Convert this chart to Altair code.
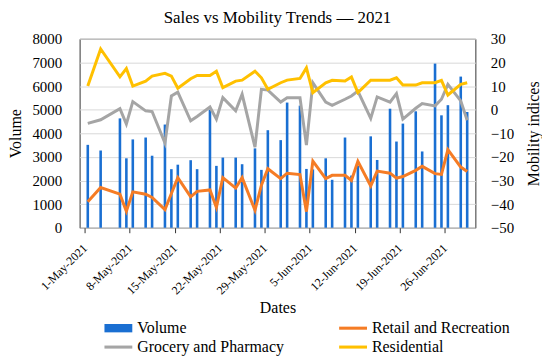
import altair as alt
import pandas as pd

FONT = "Liberation Serif"

dates = ["2021-05-01", "2021-05-03", "2021-05-06", "2021-05-07", "2021-05-08", "2021-05-10",
         "2021-05-11", "2021-05-13", "2021-05-14", "2021-05-15", "2021-05-17", "2021-05-18",
         "2021-05-20", "2021-05-21", "2021-05-22", "2021-05-24", "2021-05-25", "2021-05-27",
         "2021-05-28", "2021-05-29", "2021-05-31", "2021-06-01", "2021-06-03", "2021-06-04",
         "2021-06-05", "2021-06-07", "2021-06-08", "2021-06-10", "2021-06-11", "2021-06-12",
         "2021-06-14", "2021-06-15", "2021-06-17", "2021-06-18", "2021-06-19", "2021-06-21",
         "2021-06-22", "2021-06-24", "2021-06-25", "2021-06-26", "2021-06-28", "2021-06-29"]

volume = [3510, 3270, 4630, 2940, 3740, 3820, 3050, 4370, 2480, 2670, 2860, 2480, 5000, 2620,
          2970, 2970, 2690, 3360, 2450, 4130, 3710, 5300, 5170, 2490, 2470, 2940, 2030, 3820,
          2210, 2630, 3870, 2870, 5040, 3650, 4410, 4930, 3230, 6950, 4760, 5190, 6400, 4900]

retail = [-39.0, -33.0, -35.8, -43.0, -34.8, -35.8, -37.2, -42.3, -35.5, -28.8, -36.9, -34.6,
          -34.0, -41.4, -28.8, -33.2, -28.8, -42.6, -32.0, -25.0, -29.2, -26.9, -27.5, -43.2,
          -21.8, -29.2, -27.8, -27.8, -30.0, -21.9, -32.3, -26.0, -26.9, -29.0, -28.3, -25.7,
          -24.0, -27.1, -27.4, -16.9, -24.3, -26.2]

grocery = [-5.8, -4.3, 0.4, -6.1, 3.4, -0.5, -0.8, -14.1, 5.8, 7.4, -4.7, -2.9, 1.1, -4.0,
           5.1, -0.5, 6.5, -15.9, 8.6, 8.3, 3.2, 5.0, 5.0, -15.0, 11.4, 3.2, 1.8, 4.4, 5.8,
           7.9, -3.7, 5.4, 3.2, 6.8, -4.0, 0.6, 2.6, 1.6, 4.4, 10.7, 3.7, -4.5]

residential = [10.0, 25.7, 13.9, 17.4, 10.0, 12.1, 14.2, 15.4, 14.2, 9.1, 13.1, 14.5, 14.5,
               16.3, 9.3, 12.1, 12.5, 16.3, 13.5, 8.6, 11.4, 12.5, 13.2, 17.7, 7.2, 11.4, 12.4,
               12.1, 13.8, 7.2, 12.5, 12.5, 12.5, 13.5, 10.4, 10.4, 11.4, 11.4, 12.4, 6.2,
               10.7, 11.4]

series_names = ["Volume", "Retail and Recreation", "Grocery and Pharmacy", "Residential"]
series_colors = ["#1a6fd2", "#f57c25", "#a5a5a5", "#ffc000"]
# legend entries fill column by column: Volume / Grocery, then Retail / Residential
legend_order = ["Volume", "Grocery and Pharmacy", "Retail and Recreation", "Residential"]
legend_colors = ["#1a6fd2", "#a5a5a5", "#f57c25", "#ffc000"]
legend_shapes = ["M-2,-0.6H2V0.6H-2Z", "M-2,-0.22H2V0.22H-2Z",
                 "M-2,-0.22H2V0.22H-2Z", "M-2,-0.22H2V0.22H-2Z"]
tick_dates = [(5, 1), (5, 8), (5, 15), (5, 22), (5, 29), (6, 5), (6, 12), (6, 19), (6, 26)]

# each point sits in the middle of its day, as in the source chart
stamps = [d + "T12:00:00Z" for d in dates]

bar_df = pd.DataFrame({"Date": stamps, "Volume": volume, "Series": "Volume"})
line_df = pd.concat([
    pd.DataFrame({"Date": stamps, "Index": retail, "Series": series_names[1], "k": 1}),
    pd.DataFrame({"Date": stamps, "Index": grocery, "Series": series_names[2], "k": 2}),
    pd.DataFrame({"Date": stamps, "Index": residential, "Series": series_names[3], "k": 3}),
])
legend_df = pd.DataFrame({"Series": legend_order})

color_scale = alt.Scale(domain=legend_order, range=legend_colors)

x_enc = alt.X(
    "Date:T",
    scale=alt.Scale(type="utc",
                    domain=[alt.DateTime(year=2021, month=5, date=1, utc=True),
                            alt.DateTime(year=2021, month=6, date=30, utc=True)]),
    axis=alt.Axis(
        values=[alt.DateTime(year=2021, month=m, date=d, utc=True) for m, d in tick_dates],
        format="%-d-%b-%Y", labelAngle=-45, labelAlign="right", labelBaseline="middle",
        labelPadding=13, tickSize=5, tickColor="#333333", domain=False, grid=False,
        labelFont=FONT, labelFontSize=12, labelColor="black", labelFlush=False,
        labelOverlap=False, title="Dates", titleFont=FONT, titleFontSize=16,
        titleFontWeight="normal", titleColor="black", titlePadding=3),
)

bars = alt.Chart(bar_df).mark_bar(width=2.6).encode(
    x=x_enc,
    y=alt.Y("Volume:Q", scale=alt.Scale(domain=[0, 8000], nice=False),
            axis=alt.Axis(values=list(range(0, 8001, 1000)), format="d", grid=True,
                          gridColor="#d9d9d9", ticks=False, domain=False, labelPadding=18,
                          labelFont=FONT, labelFontSize=15, labelColor="black",
                          title="Volume", titleFont=FONT, titleFontSize=16,
                          titleFontWeight="normal", titleColor="black", titlePadding=8)),
    color=alt.Color("Series:N", scale=color_scale, legend=None),
)

lines = alt.Chart(line_df).mark_line(strokeWidth=3).encode(
    x=x_enc,
    y=alt.Y("Index:Q", scale=alt.Scale(domain=[-50, 30], nice=False),
            axis=alt.Axis(orient="right", values=list(range(-50, 31, 10)), grid=False,
                          ticks=False, domain=False, labelPadding=15, labelFont=FONT,
                          labelFontSize=15, labelColor="black", title="Mobility indices",
                          titleFont=FONT, titleFontSize=16, titleFontWeight="normal",
                          titleColor="black", titleAngle=270, titlePadding=28)),
    color=alt.Color("Series:N", scale=color_scale, legend=None),
    detail="k:N",
)

leg = alt.Legend(title=None, orient="none", legendX=31, legendY=283, columns=2,
                 columnPadding=55, rowPadding=3, symbolSize=196, symbolStrokeWidth=0,
                 labelFont=FONT, labelFontSize=16, labelColor="black", labelOffset=11)

legend_layer = alt.Chart(legend_df).mark_point(filled=True, opacity=1, size=0).encode(
    color=alt.Color("Series:N", scale=color_scale, legend=leg),
    shape=alt.Shape("Series:N",
                    scale=alt.Scale(domain=legend_order, range=legend_shapes),
                    legend=leg),
)

chart = alt.layer(bars, lines, legend_layer).resolve_scale(
    y="independent"
).resolve_legend(color="independent", shape="independent").properties(
    width=398, height=190, padding=0,
    title=alt.TitleParams("Sales vs Mobility Trends — 2021", font=FONT, fontSize=17,
                          fontWeight="normal", color="black", anchor="middle", offset=5),
).configure_view(stroke="#333333", strokeWidth=1)

chart.save("out.html", embed_options={"renderer": "svg", "actions": False})
